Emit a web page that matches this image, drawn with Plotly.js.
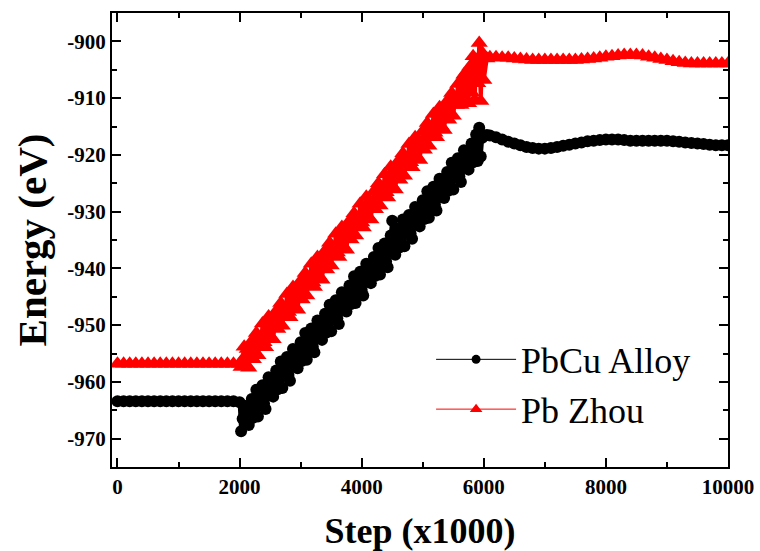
<!DOCTYPE html>
<html>
<head>
<meta charset="utf-8">
<script src="https://cdn.plot.ly/plotly-3.0.1.min.js"></script>
<style>html,body{margin:0;padding:0;background:#fff;}#chart{width:760px;height:551px;}</style>
</head>
<body>
<div id="chart"></div>
<script>
// Simulation steps (x1000)
const steps = [
  0,100,200,300,400,500,600,700,800,900,1000,1100,1200,1300,1400,1500,1600,1700,1800,1900,
  2000,2025,2050,2075,2100,2125,2150,2175,2200,2225,2250,2275,2300,2325,2350,2375,
  2400,2425,2450,2475,2500,2525,2550,2575,2600,2625,2650,2675,2700,2725,2750,2775,
  2800,2825,2850,2875,2900,2925,2950,2975,3000,3025,3050,3075,3100,3125,3150,3175,
  3200,3225,3250,3275,3300,3325,3350,3375,3400,3425,3450,3475,3500,3525,3550,3575,
  3600,3625,3650,3675,3700,3725,3750,3775,3800,3825,3850,3875,3900,3925,3950,3975,
  4000,4025,4050,4075,4100,4125,4150,4175,4200,4225,4250,4275,4300,4325,4350,4375,
  4400,4425,4450,4475,4500,4525,4550,4575,4600,4625,4650,4675,4700,4725,4750,4775,
  4800,4825,4850,4875,4900,4925,4950,4975,5000,5025,5050,5075,5100,5125,5150,5175,
  5200,5225,5250,5275,5300,5325,5350,5375,5400,5425,5450,5475,5500,5525,5550,5575,
  5600,5625,5650,5675,5700,5725,5750,5775,5800,5825,5850,5875,5900,5925,5950,5975,
  6000,6050,6100,6200,6300,6400,6500,6600,6700,6800,6900,7000,7100,7200,7300,7400,
  7500,7600,7700,7800,7900,8000,8100,8200,8300,8400,8500,8600,8700,8800,8900,9000,
  9100,9200,9300,9400,9500,9600,9700,9800,9900,10000
];

// PbCu Alloy energy (eV)
const pbcuAlloy = [
  -963.4,-963.4,-963.4,-963.4,-963.4,-963.4,-963.4,-963.4,-963.4,-963.4,-963.4,-963.4,-963.4,-963.4,-963.4,-963.4,-963.4,-963.4,-963.4,-963.4,
  -963.6,
  -968.7,-966.5,-964.2,-967.3,-964.3,-967.6,-965.6,-963.0,-966.3,-963.4,-961.4,-966.1,-962.5,-963.7,-960.6,-963.8,
  -964.8,-961.5,-959.2,-962.3,-959.3,-962.6,-960.6,-958.0,-961.3,-958.4,-956.4,-961.1,-957.5,-958.7,-955.6,-958.8,
  -959.8,-956.5,-954.2,-957.3,-954.3,-957.6,-955.6,-953.0,-956.3,-953.4,-951.4,-956.1,-952.5,-953.7,-950.6,-953.8,
  -954.8,-951.5,-949.2,-952.3,-949.3,-952.6,-950.6,-948.0,-951.3,-948.4,-946.4,-951.1,-947.5,-948.7,-945.6,-948.8,
  -949.8,-946.5,-944.2,-947.3,-944.3,-947.6,-945.6,-943.0,-946.3,-943.4,-941.4,-946.1,-942.5,-943.7,-940.6,-943.8,
  -944.8,-941.5,-939.2,-942.3,-939.3,-942.6,-940.6,-938.0,-941.3,-938.4,-936.4,-941.1,-937.5,-938.7,-935.6,-938.8,
  -939.8,-936.5,-934.2,-931.6,-934.3,-937.6,-935.6,-933.0,-936.3,-933.4,-931.4,-936.1,-932.5,-933.7,-930.6,-933.8,
  -934.8,-931.5,-929.2,-932.3,-929.3,-932.6,-930.6,-928.0,-931.3,-928.4,-926.4,-931.1,-927.5,-928.7,-925.6,-928.8,
  -929.8,-926.5,-924.2,-927.3,-924.3,-927.6,-925.6,-923.0,-926.3,-923.4,-921.4,-926.1,-922.5,-923.7,-920.6,-923.8,
  -924.8,-921.5,-919.2,-922.3,-919.3,-922.6,-920.6,-918.0,-921.3,-918.4,-916.4,-921.1,-915.2,-920.3,-917.0,
  -916.6,-916.5,-916.6,-916.9,-917.3,-917.7,-918.0,-918.3,-918.6,-918.8,-918.9,-918.9,-918.8,-918.6,-918.4,-918.2,
  -918.0,-917.8,-917.6,-917.5,-917.4,-917.3,-917.3,-917.3,-917.4,-917.5,-917.5,-917.5,-917.5,-917.5,-917.5,-917.5,
  -917.6,-917.7,-917.8,-917.9,-918.0,-918.1,-918.2,-918.3,-918.3,-918.3
];

// Pb Zhou energy (eV)
const pbZhou = [
  -956.8,-956.8,-956.8,-956.8,-956.8,-956.8,-956.8,-956.8,-956.8,-956.8,-956.8,-956.8,-956.8,-956.8,-956.8,-956.8,-956.8,-956.8,-956.8,-956.8,
  -956.8,
  -957.4,-956.0,-953.8,-957.2,-954.2,-957.5,-955.2,-952.8,-956.0,-952.9,-951.4,-955.3,-952.8,-953.5,-949.7,-953.0,
  -953.9,-950.8,-948.5,-951.9,-949.0,-952.5,-949.9,-947.5,-950.7,-947.6,-946.1,-950.1,-947.5,-948.2,-944.5,-947.7,
  -948.6,-945.5,-943.3,-946.6,-943.7,-947.3,-944.6,-942.2,-945.5,-942.3,-940.8,-944.8,-942.2,-942.9,-939.2,-942.5,
  -943.3,-940.2,-938.0,-941.3,-938.4,-942.0,-939.3,-936.9,-940.2,-937.1,-935.5,-939.5,-937.0,-937.6,-933.9,-937.2,
  -938.0,-934.9,-932.7,-936.1,-933.1,-936.7,-934.1,-931.6,-934.9,-931.8,-930.3,-934.2,-931.7,-932.4,-928.6,-931.9,
  -932.8,-929.6,-927.4,-930.8,-927.9,-931.4,-928.8,-926.4,-929.6,-926.5,-925.0,-928.9,-926.4,-927.1,-923.4,-926.6,
  -927.5,-924.4,-922.1,-925.5,-922.6,-926.1,-923.5,-921.1,-924.4,-921.2,-919.7,-923.7,-921.1,-921.8,-918.1,-921.3,
  -922.2,-919.1,-916.9,-920.2,-917.3,-920.9,-918.2,-915.8,-919.1,-915.9,-914.4,-918.4,-915.9,-916.5,-912.8,-916.1,
  -916.9,-913.8,-911.6,-914.9,-912.0,-915.6,-912.9,-910.5,-913.8,-910.7,-909.1,-913.1,-910.6,-911.2,-907.5,-910.8,
  -911.2,-907.0,-905.9,-910.5,-905.2,-910.9,-904.4,-909.0,-902.6,-910.3,-903.8,-907.4,-900.3,-910.5,-902.0,
  -906.8,-903.0,-902.8,-902.8,-902.9,-902.9,-903.0,-903.1,-903.2,-903.3,-903.3,-903.3,-903.3,-903.3,-903.3,-903.3,
  -903.3,-903.2,-903.1,-903.0,-902.9,-902.7,-902.6,-902.5,-902.4,-902.4,-902.4,-902.5,-902.7,-902.9,-903.1,-903.3,
  -903.5,-903.7,-903.8,-903.9,-903.9,-903.9,-903.9,-903.9,-903.9,-903.9
];

const xTickVals = [0, 2000, 4000, 6000, 8000, 10000];
const xTickText = ['0', '2000', '4000', '6000', '8000', '10000'];
const xMinorVals = [1000, 3000, 5000, 7000, 9000];
const yTickVals = [-970, -960, -950, -940, -930, -920, -910, -900];
const yTickText = ['-970', '-960', '-950', '-940', '-930', '-920', '-910', '-900'];
const yMinorVals = [-975, -965, -955, -945, -935, -925, -915, -905, -895];

const seriesNames = ['PbCu Alloy', 'Pb Zhou'];

const FONT = 'Liberation Serif, Times New Roman, serif';

const traces = [
  {
    x: steps, y: pbcuAlloy, type: 'scatter', mode: 'lines+markers',
    line: {color: '#000000', width: 4},
    marker: {symbol: 'circle', size: 12, color: '#000000'},
    showlegend: false, hoverinfo: 'skip'
  },
  {
    x: steps, y: pbZhou, type: 'scatter', mode: 'lines+markers',
    line: {color: '#ff0000', width: 4},
    marker: {symbol: 'triangle-up', size: 15, color: '#ff0000'},
    showlegend: false, hoverinfo: 'skip'
  },
  {
    x: [null], y: [null], type: 'scatter', mode: 'lines+markers', name: seriesNames[0],
    line: {color: '#000000', width: 1}, marker: {symbol: 'circle', size: 9, color: '#000000'}
  },
  {
    x: [null], y: [null], type: 'scatter', mode: 'lines+markers', name: seriesNames[1],
    line: {color: '#ff0000', width: 1}, marker: {symbol: 'triangle-up', size: 11, color: '#ff0000'}
  }
];

const axisCommon = {
  showline: true, linecolor: '#000', linewidth: 2, mirror: 'allticks',
  ticks: 'inside', ticklen: 9, tickwidth: 2, tickcolor: '#000',
  showgrid: false, zeroline: false,
  tickfont: {family: FONT, size: 21, color: '#000', weight: 'bold'}
};

const layout = {
  width: 760, height: 551,
  paper_bgcolor: '#fff', plot_bgcolor: '#fff',
  margin: {l: 112, r: 32, t: 13, b: 84},
  showlegend: true,
  legend: {
    x: 0.518, y: 0.303, xanchor: 'left', yanchor: 'top',
    bgcolor: 'rgba(0,0,0,0)', borderwidth: 0,
    itemwidth: 80,
    font: {family: FONT, size: 36, color: '#000'}
  },
  xaxis: Object.assign({}, axisCommon, {
    range: [-90, 10000],
    tickmode: 'array', tickvals: xTickVals, ticktext: xTickText,
    minor: {tickmode: 'array', tickvals: xMinorVals, ticks: 'inside', ticklen: 5, tickwidth: 2, tickcolor: '#000'},
    title: {text: 'Step (x1000)', font: {family: FONT, size: 36, color: '#000', weight: 'bold'}, standoff: 20}
  }),
  yaxis: Object.assign({}, axisCommon, {
    range: [-975, -895],
    tickmode: 'array', tickvals: yTickVals, ticktext: yTickText,
    minor: {tickmode: 'array', tickvals: yMinorVals, ticks: 'inside', ticklen: 5, tickwidth: 2, tickcolor: '#000'},
    title: {text: 'Energy (eV)', font: {family: FONT, size: 41, color: '#000', weight: 'bold'}, standoff: 8}
  })
};

Plotly.newPlot('chart', traces, layout, {displayModeBar: false, staticPlot: true});
</script>
</body>
</html>
